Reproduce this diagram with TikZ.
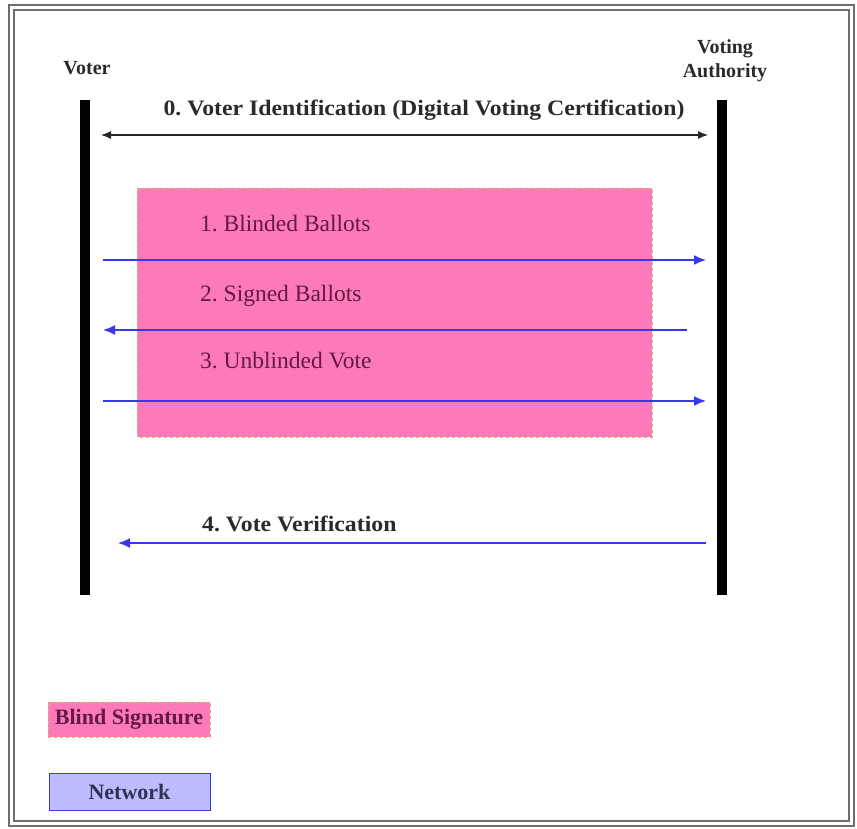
\documentclass[tikz,border=0pt]{standalone}
\usepackage{fontspec}
\setmainfont{Liberation Serif}
\newfontfamily\widefont[FakeStretch=1.08]{Liberation Serif}
\usetikzlibrary{arrows.meta}
\definecolor{pinkfill}{RGB}{253,122,186}
\definecolor{pinkedge}{RGB}{205,190,100}
\definecolor{netfill}{RGB}{190,188,255}
\definecolor{netedge}{RGB}{60,60,200}
\definecolor{arrblue}{RGB}{55,55,240}
\definecolor{labink}{RGB}{45,40,45}
\definecolor{pinkink}{RGB}{100,25,70}
\definecolor{netink}{RGB}{50,50,85}
\definecolor{frame}{RGB}{110,110,110}
\tikzset{
  lifeline/.style={line width=9.5pt, black},
  actor/.style={font=\fontsize{20}{24}\selectfont\bfseries, text=labink, align=center, inner sep=0pt},
  boldlab/.style={font=\fontsize{22}{26}\selectfont\widefont\bfseries, text=labink, inner sep=0pt},
  pinklab/.style={font=\fontsize{23.5}{27}\selectfont, text=pinkink, inner sep=0pt, anchor=west},
  msg/.style={line width=1.6pt, arrblue, -{Latex[length=12pt,width=10pt]}},
  ident/.style={line width=1.2pt, black!85, {Latex[length=10pt,width=8pt]}-{Latex[length=10pt,width=8pt]}},
  legendpink/.style={fill=pinkfill, draw=pinkedge, dashed, line width=0.8pt, minimum width=162pt, minimum height=35pt, font=\fontsize{22}{26}\selectfont\bfseries, text=pinkink},
  legendnet/.style={fill=netfill, draw=netedge, line width=1pt, minimum width=161pt, minimum height=37pt, font=\fontsize{22}{26}\selectfont\bfseries, text=netink},
}
\begin{document}
\frenchspacing
\begin{tikzpicture}[x=1pt, y=-1pt]
\useasboundingbox (0,0) rectangle (857,829);
% frame
\draw[frame, line width=2pt, double=white, double distance=3pt] (11.5,8) rectangle (851,823);
% blind signature area
\fill[pinkfill] (137,188) rectangle (652,437);
\draw[pinkedge, dashed, line width=0.8pt] (137,188) rectangle (652,437);
% actors
\node[actor] (voter) at (87,68) {Voter};
\node[actor] (auth) at (725,61) {Voting\\Authority};
% lifelines
\coordinate (vtop) at (85,100);
\coordinate (vbot) at (85,595);
\coordinate (atop) at (722,100);
\coordinate (abot) at (722,595);
\draw[lifeline] (vtop) -- (vbot);
\draw[lifeline] (atop) -- (abot);
% message endpoints
\coordinate (m0l) at (101,135);
\coordinate (m0r) at (708,135);
\coordinate (m1l) at (103,260);
\coordinate (m1r) at (706,260);
\coordinate (m2l) at (103,330);
\coordinate (m2r) at (687,330);
\coordinate (m3l) at (103,401);
\coordinate (m3r) at (706,401);
\coordinate (m4l) at (118,543);
\coordinate (m4r) at (706,543);
% messages
\draw[ident] (m0l) -- (m0r);
\node[boldlab] (l0) at (424,110) {0. Voter Identification (Digital Voting Certification)};
\draw[msg] (m1l) -- (m1r);
\node[pinklab] (l1) at (200,224) {1. Blinded Ballots};
\draw[msg] (m2r) -- (m2l);
\node[pinklab] (l2) at (200,296) {2. Signed Ballots};
\draw[msg] (m3l) -- (m3r);
\node[pinklab] (l3) at (200,361) {3. Unblinded Vote};
\draw[msg] (m4r) -- (m4l);
\node[boldlab, anchor=west] (l4) at (202,524) {4. Vote Verification};
% legend
\node[legendpink] (lgpink) at (129,719.5) {Blind Signature};
\node[legendnet] (lgnet) at (129.5,791.5) {Network};
\end{tikzpicture}
\end{document}
